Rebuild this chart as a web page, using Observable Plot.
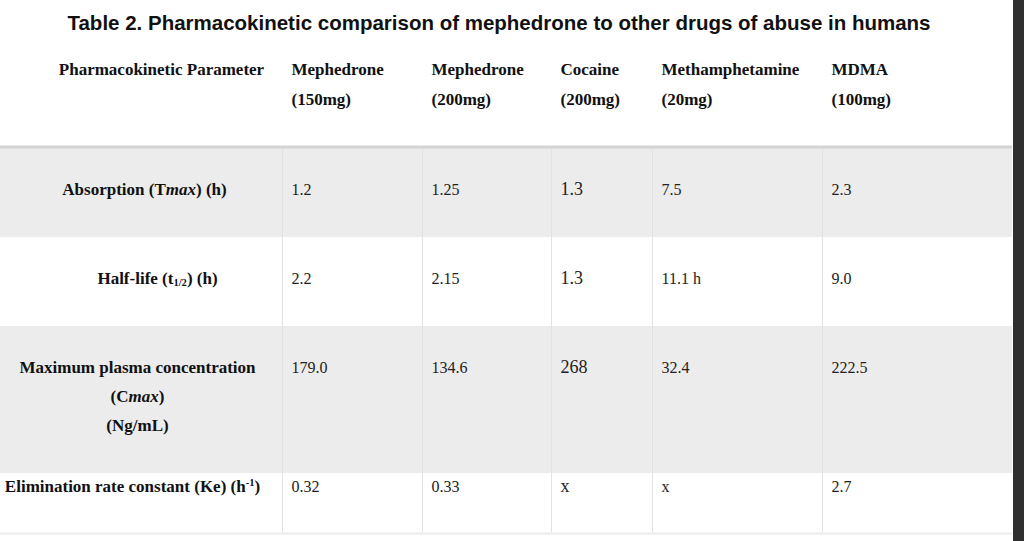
<!DOCTYPE html>
<html><head><meta charset="utf-8">
<script src="https://cdn.jsdelivr.net/npm/d3@7"></script>
<script src="https://cdn.jsdelivr.net/npm/@observablehq/plot@0.6"></script>
<style>
html,body{margin:0;padding:0;background:#fff;}
#wrap{position:relative;width:1024px;height:541px;overflow:hidden;background:#fff;}
#title{font:bold 20.5px "Liberation Sans",Arial,sans-serif;height:46px;line-height:46px;color:#111;text-align:center;width:998px;white-space:nowrap;}
#chart svg{display:block;}
#bar{position:absolute;right:0;top:0;width:11px;height:541px;background:#2f2f2f;}
</style></head>
<body><div id="wrap"><div id="title"></div><div id="chart"></div><div id="bar"></div></div>
<script>
// ---- data ----
const title = "Table 2. Pharmacokinetic comparison of mephedrone to other drugs of abuse in humans";
const parameterHeader = "Pharmacokinetic Parameter";
const drugs = ["Mephedrone", "Mephedrone", "Cocaine", "Methamphetamine", "MDMA"];
const doses = ["(150mg)", "(200mg)", "(200mg)", "(20mg)", "(100mg)"];
const parameters = [
  "Absorption (Tmax) (h)",
  "Half-life (t1/2) (h)",
  "Maximum plasma concentration\n(Cmax)\n(Ng/mL)",
  "Elimination rate constant (Ke) (h-1)"
];
const mephedrone150 = ["1.2", "2.2", "179.0", "0.32"];
const mephedrone200 = ["1.25", "2.15", "134.6", "0.33"];
const cocaine200 = ["1.3", "1.3", "268", "x"];
const methamphetamine20 = ["7.5", "11.1 h", "32.4", "x"];
const mdma100 = ["2.3", "9.0", "222.5", "2.7"];
const columns = [mephedrone150, mephedrone200, cocaine200, methamphetamine20, mdma100];

// ---- layout (page pixels) ----
const titleH = 46;
const colEdges = [0, 282, 422, 551, 652, 822, 1012];
const rowTops = [148, 237, 326, 473];
const rowBottoms = [237, 326, 473, 532];
const valueY = [189, 278, 367, 486];
const labelY = [185, 274, 392, 482];
const labelX = [144, 157, 137, 132];
const serif = '"Liberation Serif","Times New Roman",serif';

document.getElementById("title").textContent = title;

const rows = parameters.map((p, i) => ({p, i}));
const cells = columns.flatMap((col, j) => col.map((v, i) => ({v, i, j})));
const heads = drugs.map((d, j) => ({t: d + "\n" + doses[j], j}));

const svg = Plot.plot({
  width: 1024, height: 541 - titleH,
  margin: 0,
  x: {type: "linear", domain: [0, 1024], range: [0, 1024], axis: null},
  y: {type: "linear", domain: [titleH, 541], range: [0, 541 - titleH], axis: null},
  style: {background: "transparent", overflow: "visible"},
  marks: [
    Plot.rect(rows, {x1: () => 0, x2: () => colEdges[colEdges.length - 1],
      y1: d => rowTops[d.i], y2: d => rowBottoms[d.i],
      fill: d => d.i % 2 ? "#ffffff" : "#ececec"}),
    Plot.ruleX(colEdges.slice(1, -1), {y1: rowTops[0], y2: rowBottoms[rowBottoms.length - 1], stroke: "#e2e2e2", strokeWidth: 1}),
    Plot.ruleY([rowTops[0] - 1.5], {x1: 0, x2: colEdges[colEdges.length - 1], stroke: "#d3d3d3", strokeWidth: 3}),
    Plot.ruleY([rowBottoms[rowBottoms.length - 1] + 1], {x1: 0, x2: colEdges[colEdges.length - 1], stroke: "#ebebeb", strokeWidth: 2}),
    Plot.text([parameterHeader], {x: () => 161, y: () => 69, text: d => d, fontFamily: serif, fontWeight: "bold", fontSize: 17, fill: "#111"}),
    Plot.text(heads, {x: d => colEdges[d.j + 1] + 9, y: () => 80, text: "t", textAnchor: "start",
      lineHeight: 1.76, fontFamily: serif, fontWeight: "bold", fontSize: 17, fill: "#111"}),
    Plot.text(rows, {x: d => labelX[d.i], y: d => labelY[d.i], text: "p", lineHeight: 1.72,
      fontFamily: serif, fontWeight: "bold", fontSize: 17, fill: "#111"}),
    Plot.text(cells, {x: d => colEdges[d.j + 1] + 9, y: d => valueY[d.i], text: "v", textAnchor: "start",
      fontFamily: serif, fontSize: d => d.j === 2 ? 18 : 16, fill: "#222"})
  ]
});

// rich text: italic "max", subscript 1/2, superscript -1
function richify(node) {
  const s = node.nodeValue;
  if (!/max|1\/2|-1/.test(s)) return;
  const ns = "http://www.w3.org/2000/svg";
  const frag = document.createDocumentFragment();
  const parts = s.split(/(max|1\/2|-1)/);
  let shift = 0;
  for (const part of parts) {
    if (!part) continue;
    const t = document.createElementNS(ns, "tspan");
    t.textContent = part;
    let target = 0;
    if (part === "max") t.setAttribute("font-style", "italic");
    else if (part === "1/2") { t.setAttribute("font-size", "0.62em"); target = 2; }
    else if (part === "-1") { t.setAttribute("font-size", "0.62em"); target = -6; }
    if (target !== shift) { t.setAttribute("dy", target - shift); shift = target; }
    frag.appendChild(t);
  }
  node.parentNode.replaceChild(frag, node);
}
svg.querySelectorAll("text").forEach(el => {
  const walker = document.createTreeWalker(el, NodeFilter.SHOW_TEXT);
  const list = [];
  while (walker.nextNode()) list.push(walker.currentNode);
  list.forEach(richify);
});
document.getElementById("chart").appendChild(svg);
</script>
</body></html>
